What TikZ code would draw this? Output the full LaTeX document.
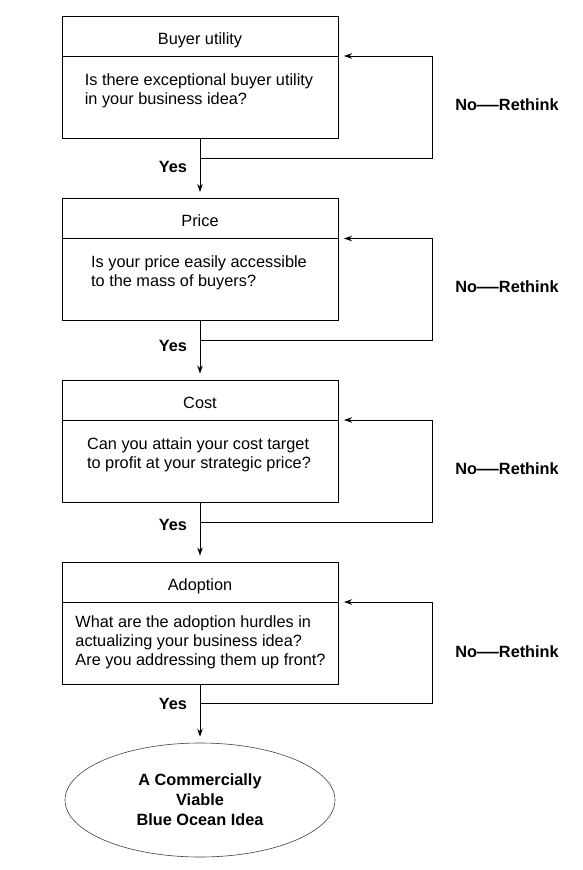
\documentclass[tikz,border=0pt]{standalone}
\usepackage{fontspec}
\setmainfont{Liberation Sans}
\usetikzlibrary{arrows.meta,shapes.geometric}
\newcommand{\wdash}{\scalebox{1.35}[1]{—}}
\begin{document}
\begin{tikzpicture}[x=1pt,y=-1pt,
 every node/.style={font=\fontsize{16.3}{19.3}\selectfont, inner sep=0pt},
 hdr/.style={draw, line width=0.9pt, minimum width=276pt, minimum height=40pt,
             text height=16.6pt, text depth=0pt},
 bodybox/.style={draw, line width=0.9pt, minimum width=276pt, minimum height=82pt},
 qtext/.style={align=left, anchor=north},
 lbl/.style={font=\fontsize{16.3}{19.3}\selectfont\bfseries},
 flow/.style={line width=0.9pt, -{Stealth[length=8pt,width=5.5pt]}, shorten >=6pt},
 back/.style={line width=0.9pt, -{Stealth[length=8pt,width=5.5pt]}},
]
\useasboundingbox (0,0) rectangle (583,870);

% Box 1
\node[hdr] (b1h) at (200,36) {Buyer utility};
\node[bodybox] (b1b) at (200,97) {};
\node[qtext] (q1) at (199,73) {Is there exceptional buyer utility\\in your business idea?};
% Box 2
\node[hdr] (b2h) at (200,218.5) {Price};
\node[bodybox] (b2b) at (200,279.5) {};
\node[qtext] (q2) at (199,255.5) {Is your price easily accessible\\to the mass of buyers?};
% Box 3
\node[hdr] (b3h) at (200,400) {Cost};
\node[bodybox] (b3b) at (200,461) {};
\node[qtext] (q3) at (199,437.5) {Can you attain your cost target\\to profit at your strategic price?};
% Box 4
\node[hdr] (b4h) at (200,582) {Adoption};
\node[bodybox] (b4b) at (200,643) {};
\node[qtext] (q4) at (200.5,615) {What are the adoption hurdles in\\actualizing your business idea?\\Are you addressing them up front?};
% Goal
\node[draw=black!75, line width=0.6pt, ellipse, minimum width=270pt, minimum height=114pt,
      align=center, font=\fontsize{16.3}{20}\selectfont\bfseries] (goal) at (200,800)
      {A Commercially\\Viable\\Blue Ocean Idea};

% Forward arrows
\draw[flow] (b1b.south) -- (b2h.north);
\draw[flow] (b2b.south) -- (b3h.north);
\draw[flow] (b3b.south) -- (b4h.north);
\draw[flow] (b4b.south) -- (goal.north);

% Feedback loops
\coordinate (j1) at (200,158); \coordinate (r1) at (432,158); \coordinate (t1) at (344,56);
\coordinate (j2) at (200,340); \coordinate (r2) at (432,340); \coordinate (t2) at (344,238.5);
\coordinate (j3) at (200,522); \coordinate (r3) at (432,522); \coordinate (t3) at (344,420);
\coordinate (j4) at (200,703); \coordinate (r4) at (432,703); \coordinate (t4) at (344,602);
\draw[back] (j1) -- (r1) |- (t1);
\draw[back] (j2) -- (r2) |- (t2);
\draw[back] (j3) -- (r3) |- (t3);
\draw[back] (j4) -- (r4) |- (t4);

% Labels
\node[lbl] (y1) at (173,167) {Yes};
\node[lbl] (y2) at (173,346) {Yes};
\node[lbl] (y3) at (173,525) {Yes};
\node[lbl] (y4) at (173,704) {Yes};
\node[lbl] (n1) at (507,105) {No\wdash Rethink};
\node[lbl] (n2) at (507,287) {No\wdash Rethink};
\node[lbl] (n3) at (507,469) {No\wdash Rethink};
\node[lbl] (n4) at (507,652) {No\wdash Rethink};
\end{tikzpicture}
\end{document}
